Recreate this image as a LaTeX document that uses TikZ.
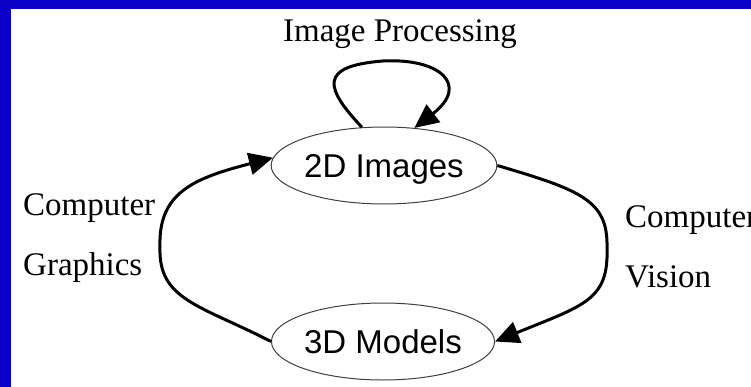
\documentclass[tikz,border=0pt]{standalone}
\usepackage{fontspec}
\setmainfont{Liberation Serif}
\setsansfont{Liberation Sans}
\usetikzlibrary{shapes.geometric,arrows.meta}
\definecolor{frameblue}{RGB}{10,0,200}
\tikzset{
  stage/.style={ellipse,draw=black!75,line width=1pt,fill=white,minimum width=200pt,minimum height=77pt,inner sep=0pt,text depth=0pt,font=\sffamily\fontsize{33}{40}\selectfont},
  flow/.style={line width=3pt,-{Triangle[length=24pt,width=22pt]}},
  caption/.style={font=\fontsize{33}{40}\selectfont,inner sep=0pt}
}
\begin{document}
\begin{tikzpicture}[x=1pt,y=1pt,yscale=-1]
\useasboundingbox (0,0) rectangle (751,387);
%Blue frame
\fill[frameblue] (0,0) rectangle (751,387);
\fill[white] (11,9) rectangle (751,387);

%Shape: Ellipse
\node[stage] (img) at (384,165.5) {2D Images};
%Shape: Ellipse
\node[stage] (mdl) at (383,341.5) {3D Models};

%Curve Lines (self loop)
\draw[flow] (img.120) .. controls (325,88) and (318,66) .. (383,61) .. controls (440,58) and (470,85) .. (img.51);

%Curve Lines (left side, upwards)
\draw[flow] (mdl.west) .. controls (200,305) and (158,300) .. (160,247) .. controls (158,192) and (195,178) .. (img.176);

%Curve Lines (right side, downwards)
\draw[flow] (img.east) .. controls (580,190) and (608,200) .. (607,247) .. controls (609,300) and (585,305) .. (mdl.east);

% Text Node
\node[caption,anchor=base] (proc) at (400,42) {Image Processing};
% Text Node
\node[caption,anchor=base west] (grA) at (23,215) {Computer};
% Text Node
\node[caption,anchor=base west] (grB) at (23,275) {Graphics};
% Text Node
\node[caption,anchor=base west] (viA) at (625,227) {Computer};
% Text Node
\node[caption,anchor=base west] (viB) at (625,287) {Vision};

\end{tikzpicture}
\end{document}
